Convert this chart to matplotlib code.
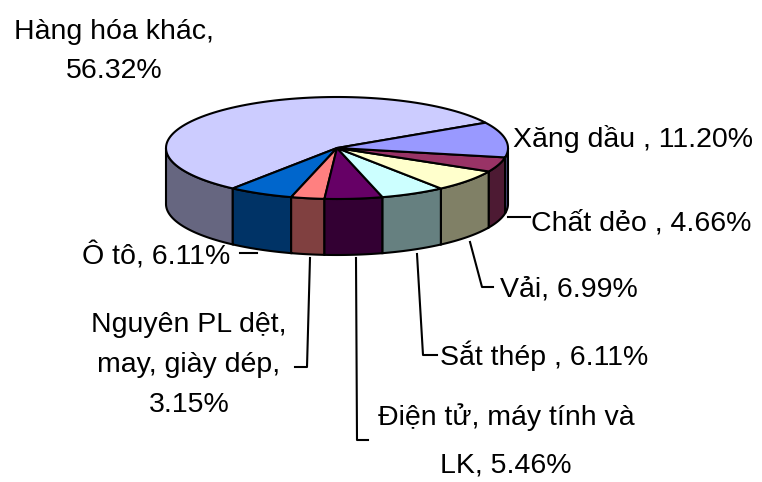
import numpy as np
import matplotlib.pyplot as plt
from matplotlib.patches import Polygon

plt.rcParams['font.family'] = ['Liberation Sans', 'DejaVu Sans']

# du lieu: co cau hang nhap khau (%)
names = ['Hàng hóa khác', 'Ô tô', 'Nguyên PL dệt,\nmay, giày dép', 'Điện tử, máy tính và\nLK',
         'Sắt thép ', 'Vải', 'Chất dẻo ', 'Xăng dầu ']
values = [56.32, 6.11, 3.15, 5.46, 6.11, 6.99, 4.66, 11.20]
seps = ['\n', ' ', '\n', ' ', ' ', ' ', ' ', ' ']
colors = ['#CCCCFF', '#0066CC', '#FF8080', '#660066', '#CCFFFF', '#FFFFCC', '#993366', '#9999FF']

# vi tri nhan (pixel): x, canh le, cac baseline
label_pos = [(114, 'center', [39, 78]),
             (82, 'left', [265]),
             (189, 'center', [332, 372, 412]),
             (506, 'center', [425, 472]),
             (440, 'left', [365]),
             (500, 'left', [297]),
             (531, 'left', [231]),
             (513, 'left', [147])]
leaders = [None,
           [(240, 253), (257, 253)],
           [(310, 258), (307, 367), (295, 367)],
           [(356, 258), (357, 440), (368, 440)],
           [(417, 254), (423, 355), (437, 355)],
           [(470, 242), (482, 287), (493, 287)],
           [(508, 217), (530, 217)],
           None]

cx, cy, a, b, depth = 337, 148, 171, 51, 56
start = 29.7


def pt(t, dy=0):
    t = np.radians(t)
    return cx + a * np.cos(t), cy - b * np.sin(t) + dy


def darker(c):
    r, g, bb = [int(c[i:i + 2], 16) / 255 for i in (1, 3, 5)]
    return (r * 0.5, g * 0.5, bb * 0.5)


fig = plt.figure(figsize=(7.62, 4.82), dpi=100)
ax = fig.add_axes([0, 0, 1, 1])
ax.set_xlim(0, 762)
ax.set_ylim(482, 0)
ax.axis('off')

angles = start + np.concatenate(([0], np.cumsum(values))) * 3.6

# thanh ben (chi phan phia truoc)
for i in range(len(values)):
    lo, hi = max(angles[i], 180), min(angles[i + 1], 360)
    if hi <= lo:
        continue
    ts = np.linspace(lo, hi, 60)
    top = [pt(t) for t in ts]
    bot = [pt(t, depth) for t in ts[::-1]]
    ax.add_patch(Polygon(top + bot, closed=True, fc=darker(colors[i]), ec='black', lw=1.5))

# mat tren
for i in range(len(values)):
    ts = np.linspace(angles[i], angles[i + 1], 100)
    poly = [(cx, cy)] + [pt(t) for t in ts]
    ax.add_patch(Polygon(poly, closed=True, fc=colors[i], ec='black', lw=1.5))

# nhan va duong dan
for i in range(len(values)):
    text = f"{names[i]},{seps[i]}{values[i]:.2f}%"
    x, ha, bases = label_pos[i]
    for line, y in zip(text.split('\n'), bases):
        ax.text(x, y, line, ha=ha, va='baseline', fontsize=20.5, color='black')
    if leaders[i]:
        xs, ys = zip(*leaders[i])
        ax.plot(xs, ys, color='black', lw=1.5)

fig.savefig('out.png', dpi=100)
